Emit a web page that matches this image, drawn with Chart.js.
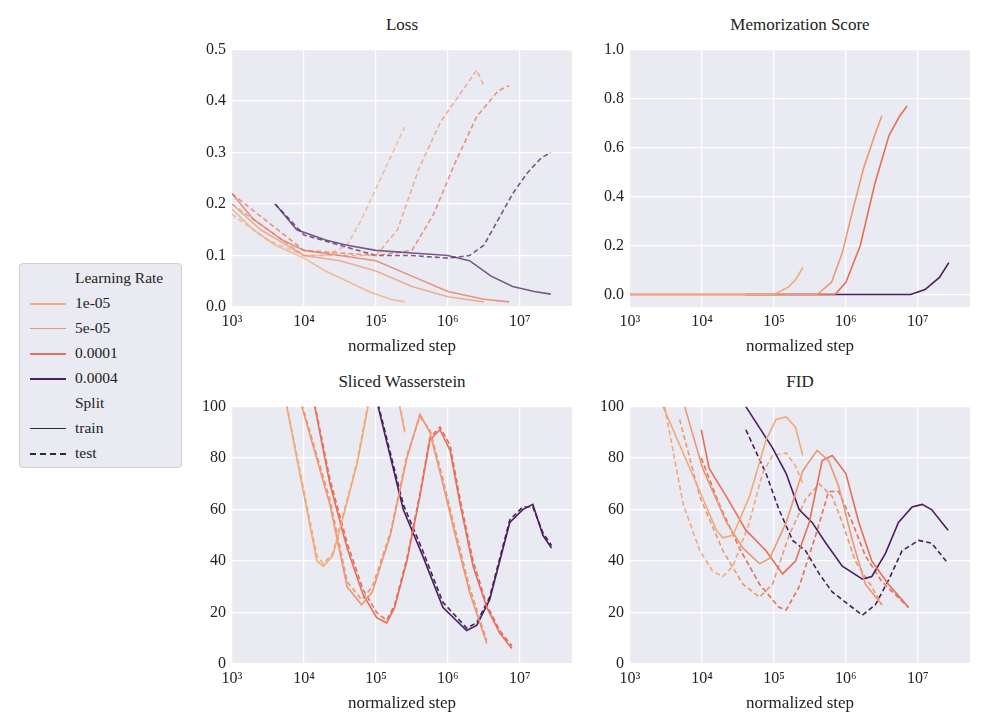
<!DOCTYPE html>
<html>
<head>
<meta charset="utf-8">
<script src="https://cdn.jsdelivr.net/npm/chart.js@4"></script>
<style>
  body { margin: 0; background: #fff; width: 988px; height: 721px; position: relative; font-family: "Liberation Serif", serif; }
  .box { position: absolute; }
  .ttl { position: absolute; font-size: 17px; color: #222; text-align: center; width: 340px; }
  #legend { position: absolute; left: 19px; top: 263px; width: 161px; height: 203px; background: #eaeaf2; border: 1px solid #cfcfd6; border-radius: 4px; font-size: 15.5px; color: #222; }
  #legend div { position: absolute; left: 55px; }
  #legend span { position: absolute; left: 10px; width: 36px; height: 0; }
</style>
</head>
<body>
<div class="ttl" style="left:232px;top:15px">Loss</div>
<div class="ttl" style="left:630px;top:15px">Memorization Score</div>
<div class="ttl" style="left:232px;top:372px">Sliced Wasserstein</div>
<div class="ttl" style="left:630px;top:372px">FID</div>
<div class="box" style="left:190px;top:34px"><canvas id="c1" width="392" height="323"></canvas></div>
<div class="box" style="left:588px;top:34px"><canvas id="c2" width="392" height="323"></canvas></div>
<div class="box" style="left:190px;top:391px"><canvas id="c3" width="392" height="323"></canvas></div>
<div class="box" style="left:588px;top:391px"><canvas id="c4" width="392" height="323"></canvas></div>
<div id="legend">
  <div style="top:5px">Learning Rate</div>
  <span style="top:39px;border-top:2px solid #f0aa78"></span><div style="top:30px">1e-05</div>
  <span style="top:64px;border-top:1px solid #ec9771"></span><div style="top:55px">5e-05</div>
  <span style="top:89px;border-top:2px solid #e66f58"></span><div style="top:80px">0.0001</div>
  <span style="top:114px;border-top:2px solid #4a1f5e"></span><div style="top:105px">0.0004</div>
  <div style="top:130px">Split</div>
  <span style="top:164px;border-top:1px solid #2a2a3a"></span><div style="top:155px">train</div>
  <span style="top:189px;border-top:2px dashed #2a2a3a"></span><div style="top:180px">test</div>
</div>
<script>
// learning rates and colours
const rates = ['1e-05', '5e-05', '0.0001', '0.0004']
const colors = ['#f0aa78', '#ec9771', '#e66f58', '#4a1f5e']

// values as [log10(step), value]
const lossTrain = [
  [[3.0,.19],[3.3,.15],[3.6,.12],[4.0,.095],[4.3,.07],[4.6,.05],[4.9,.03],[5.2,.015],[5.4,.01]],
  [[3.0,.2],[3.4,.15],[4.0,.1],[4.5,.09],[5.0,.07],[5.5,.04],[6.0,.02],[6.5,.01]],
  [[3.0,.22],[3.3,.17],[3.7,.13],[4.0,.11],[4.5,.1],[5.0,.09],[5.5,.06],[6.0,.03],[6.5,.015],[6.85,.01]],
  [[3.6,.2],[3.9,.15],[4.3,.13],[4.6,.12],[5.0,.11],[5.5,.105],[6.0,.1],[6.3,.09],[6.6,.06],[6.9,.04],[7.2,.03],[7.43,.025]],
]
const lossTest = [
  [[3.0,.18],[3.5,.13],[4.0,.1],[4.3,.1],[4.6,.12],[4.8,.17],[5.0,.23],[5.2,.29],[5.4,.35]],
  [[3.0,.2],[4.0,.1],[4.5,.1],[5.0,.1],[5.3,.15],[5.6,.27],[5.9,.36],[6.2,.42],[6.4,.46],[6.5,.43]],
  [[3.0,.22],[4.0,.11],[5.0,.1],[5.5,.11],[5.8,.18],[6.1,.28],[6.4,.37],[6.7,.42],[6.85,.43]],
  [[3.6,.2],[4.0,.14],[4.5,.12],[5.0,.1],[5.5,.1],[6.0,.095],[6.3,.1],[6.5,.12],[6.7,.17],[6.9,.22],[7.1,.26],[7.3,.29],[7.43,.3]],
]
const memTrain = [
  [[3.0,0],[5.0,0],[5.2,.03],[5.3,.06],[5.4,.11]],
  [[3.0,0],[5.6,0],[5.8,.05],[5.95,.17],[6.1,.35],[6.25,.52],[6.4,.65],[6.5,.73]],
  [[3.0,0],[5.85,0],[6.0,.05],[6.2,.2],[6.4,.45],[6.6,.65],[6.75,.73],[6.85,.77]],
  [[4.6,0],[6.9,0],[7.1,.02],[7.3,.07],[7.43,.13]],
]
const swTrain = [
  [[3.76,100],[4.18,40],[4.27,38],[4.4,42],[4.6,63],[4.74,78],[4.89,100],[5.1,112],[5.33,100],[5.4,90]],
  [[3.97,100],[4.36,62],[4.6,30],[4.8,23],[4.95,28],[5.2,50],[5.43,80],[5.61,97],[5.75,90],[5.93,70],[6.12,48],[6.3,28],[6.54,8]],
  [[4.15,100],[4.36,70],[4.6,45],[4.82,27],[5.01,18],[5.15,16],[5.26,22],[5.43,40],[5.61,65],[5.75,87],[5.89,91],[6.03,83],[6.17,62],[6.35,38],[6.54,22],[6.72,12],[6.89,6]],
  [[5.03,100],[5.38,60],[5.65,42],[5.93,22],[6.26,13],[6.4,15],[6.58,25],[6.86,55],[7.04,60],[7.18,62],[7.32,50],[7.44,45]],
]
const swTest = [
  [[3.76,101],[4.18,42],[4.27,39],[4.4,43],[4.6,64],[4.74,79],[4.89,101],[5.1,113],[5.33,101],[5.4,91]],
  [[3.97,101],[4.36,64],[4.6,32],[4.8,25],[4.95,30],[5.2,51],[5.43,81],[5.61,96],[5.75,91],[5.93,72],[6.12,50],[6.3,30],[6.54,9]],
  [[4.15,101],[4.36,72],[4.6,47],[4.82,29],[5.01,20],[5.15,17],[5.26,23],[5.43,41],[5.61,66],[5.75,88],[5.89,92],[6.03,85],[6.17,64],[6.35,40],[6.54,23],[6.72,13],[6.89,7]],
  [[5.03,101],[5.38,62],[5.65,44],[5.93,24],[6.26,14],[6.4,16],[6.58,26],[6.86,56],[7.04,61],[7.18,61],[7.32,51],[7.44,46]],
]
const fidTrain = [
  [[3.46,100],[3.97,67],[4.2,52],[4.29,49],[4.43,50],[4.66,65],[4.89,87],[5.03,95],[5.17,96],[5.3,92],[5.4,81]],
  [[3.76,100],[4.01,76],[4.34,55],[4.57,45],[4.8,39],[4.94,41],[5.17,55],[5.4,75],[5.6,83],[5.76,79],[5.9,69],[6.09,48],[6.27,31],[6.5,23]],
  [[3.99,91],[4.1,76],[4.34,65],[4.61,52],[4.89,44],[5.12,35],[5.3,40],[5.49,55],[5.67,79],[5.81,81],[6.0,74],[6.18,55],[6.36,40],[6.59,31],[6.87,22]],
  [[4.61,100],[4.98,84],[5.17,74],[5.35,60],[5.53,55],[5.72,47],[5.95,38],[6.23,33],[6.36,34],[6.55,43],[6.73,55],[6.92,61],[7.06,62],[7.19,60],[7.42,52]],
]
const fidTest = [
  [[3.48,100],[3.74,62],[3.97,44],[4.15,36],[4.29,34],[4.43,38],[4.66,55],[4.84,74],[4.98,81],[5.17,82],[5.3,77],[5.4,70]],
  [[3.69,95],[3.97,65],[4.29,44],[4.57,31],[4.8,26],[4.98,31],[5.21,50],[5.44,64],[5.63,70],[5.81,65],[5.95,55],[6.13,40],[6.36,30],[6.5,23]],
  [[3.99,80],[4.24,62],[4.52,45],[4.8,31],[5.07,22],[5.17,21],[5.35,30],[5.58,50],[5.76,67],[5.9,67],[6.09,55],[6.27,42],[6.5,32],[6.87,22]],
  [[4.61,91],[4.89,74],[5.07,60],[5.26,48],[5.44,44],[5.63,35],[5.81,28],[6.04,23],[6.23,19],[6.41,23],[6.6,33],[6.78,44],[7.01,48],[7.19,47],[7.42,39]],
]
const xTicks = [1e3, 1e4, 1e5, 1e6, 1e7]
const xTickLabels = ['10³', '10⁴', '10⁵', '10⁶', '10⁷']
const lossTicks = [0, 0.1, 0.2, 0.3, 0.4, 0.5]
const memTicks = [0, 0.2, 0.4, 0.6, 0.8, 1.0]
const distTicks = [0, 20, 40, 60, 80, 100]

Chart.defaults.font.family = '"Liberation Serif", serif'
Chart.defaults.color = '#222'
const tickFont = { family: '"Liberation Serif", serif', size: 16 }

const bg = {
  id: 'bg',
  beforeDraw(chart) {
    const a = chart.chartArea
    chart.ctx.save()
    chart.ctx.fillStyle = '#eaeaf2'
    chart.ctx.fillRect(a.left, a.top, a.width, a.height)
    chart.ctx.restore()
  },
}

const toPts = (arr) => arr.map(([e, v]) => ({ x: 10 ** e, y: v }))

const makeSets = (train, test, alpha) => {
  const sets = []
  train.forEach((s, i) => sets.push({
    data: toPts(s), borderColor: colors[i] + alpha, borderWidth: 1.6,
  }))
  if (test) test.forEach((s, i) => sets.push({
    data: toPts(s), borderColor: colors[i] + alpha, borderWidth: 1.6, borderDash: [5, 3],
  }))
  return sets
}

const makeChart = (id, datasets, yMin, yMax, yTicks, yFmt) => new Chart(document.getElementById(id), {
  type: 'line',
  data: { datasets },
  plugins: [bg],
  options: {
    responsive: false,
    animation: false,
    layout: { padding: { top: 5, right: 10 } },
    elements: { point: { radius: 0 }, line: { tension: 0 } },
    plugins: { legend: { display: false }, tooltip: { enabled: false } },
    scales: {
      x: {
        type: 'logarithmic', min: 1e3, max: 5.3e7,
        afterBuildTicks: (ax) => { ax.ticks = xTicks.map((v) => ({ value: v })) },
        afterFit: (ax) => { ax.height = 50 },
        ticks: { callback: (v) => xTickLabels[xTicks.indexOf(v)], maxRotation: 0, padding: 5, font: tickFont },
        grid: { color: '#ffffff', lineWidth: 1.2, drawTicks: false },
        border: { display: false },
        title: { display: true, text: 'normalized step', font: { size: 17 }, padding: 0 },
      },
      y: {
        min: yMin, max: yMax,
        afterBuildTicks: (ax) => { ax.ticks = yTicks.map((v) => ({ value: v })) },
        afterFit: (ax) => { ax.width = 42 },
        ticks: { callback: yFmt, padding: 6, font: tickFont },
        grid: { color: '#ffffff', lineWidth: 1.2, drawTicks: false },
        border: { display: false },
      },
    },
  },
})

makeChart('c1', makeSets(lossTrain, lossTest, 'b8'), 0, 0.5, lossTicks, (v) => v.toFixed(1))
makeChart('c2', makeSets(memTrain, null, ''), -0.051, 1.0, memTicks, (v) => v.toFixed(1))
makeChart('c3', makeSets(swTrain, swTest, ''), 0, 100, distTicks, (v) => v)
makeChart('c4', makeSets(fidTrain, fidTest, ''), 0, 100, distTicks, (v) => v)
</script>
</body>
</html>
